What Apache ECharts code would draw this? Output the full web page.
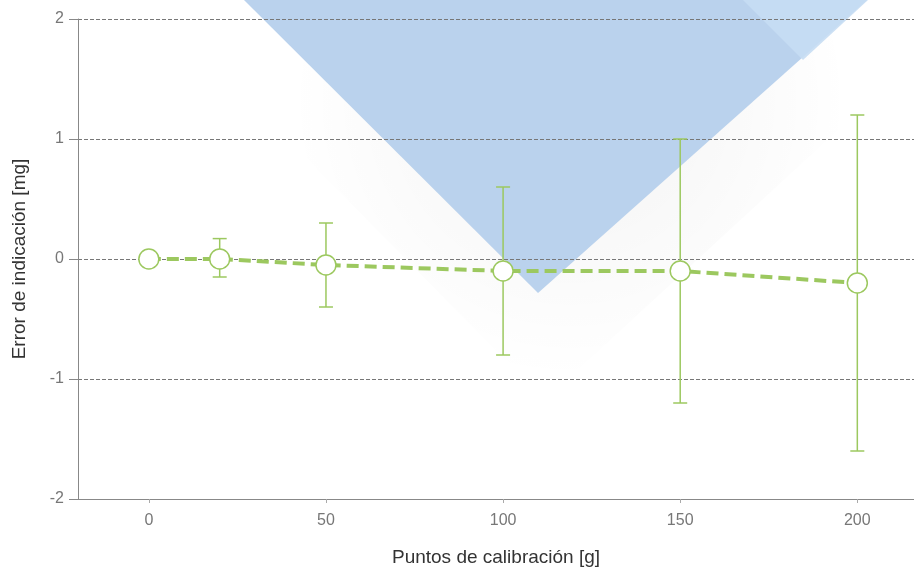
<!DOCTYPE html>
<html><head><meta charset="utf-8">
<script src="https://cdn.jsdelivr.net/npm/echarts@6/dist/echarts.min.js"></script>
<style>html,body{margin:0;padding:0;background:#fff}#c{width:914px;height:567px}</style>
</head><body><div id="c"></div>
<script>
const xPoints = [0, 20, 50, 100, 150, 200];
const errorValues = [0, 0.0, -0.05, -0.1, -0.1, -0.2];
const errLow = [null, -0.15, -0.4, -0.8, -1.2, -1.6];
const errHigh = [null, 0.17, 0.3, 0.6, 1.0, 1.2];
const xTicks = [0, 50, 100, 150, 200];
const yTicks = [-2, -1, 0, 1, 2];
const GREEN = '#9cc85f';

const chart = echarts.init(document.getElementById('c'), null, {renderer: 'canvas'});
const lineData = xPoints.map((x, i) => [x, errorValues[i]]);
const barData = [];
xPoints.forEach((x, i) => { if (errLow[i] !== null) barData.push([x, errLow[i], errHigh[i]]); });

chart.setOption({
  animation: false,
  backgroundColor: '#fff',
  graphic: [
    { type: 'polygon', z: -20, silent: true,
      shape: { points: [[150, 0], [545, 400], [914, 60], [914, 0]] },
      style: { fill: new echarts.graphic.RadialGradient(0.55, 0.25, 0.7, [
        { offset: 0, color: 'rgba(0,0,0,0.05)' },
        { offset: 1, color: 'rgba(0,0,0,0)' }]) } },
    { type: 'polygon', z: -10, silent: true,
      shape: { points: [[244, 0], [538, 293], [867, 0]] },
      style: { fill: '#bad2ed' } },
    { type: 'polygon', z: -9, silent: true,
      shape: { points: [[743, 0], [803, 60], [868, 0]] },
      style: { fill: '#c7ddf3', opacity: 0.9 } }
  ],
  grid: { left: 78, right: 0, top: 19, bottom: 68, containLabel: false, outerBoundsMode: 'none' },
  xAxis: {
    type: 'value', min: -20, max: 216,
    name: 'Puntos de calibración [g]', nameLocation: 'middle', nameGap: 49,
    nameTextStyle: { color: '#333', fontSize: 19, fontFamily: 'Liberation Sans, Arial' },
    axisLine: { show: true, onZero: false, lineStyle: { color: '#888', width: 1 } },
    axisTick: { show: true, length: 4, customValues: xTicks, lineStyle: { color: '#aaa' } },
    axisLabel: { customValues: xTicks, color: '#777', fontSize: 16, margin: 14, fontFamily: 'Liberation Sans, Arial' },
    splitLine: { show: false }
  },
  yAxis: {
    type: 'value', min: -2, max: 2, interval: 1,
    name: 'Error de indicación [mg]', nameLocation: 'middle', nameGap: 49, nameRotate: 90,
    nameTextStyle: { color: '#333', fontSize: 19, fontFamily: 'Liberation Sans, Arial' },
    axisLine: { show: true, onZero: false, lineStyle: { color: '#888', width: 1 } },
    axisTick: { show: true, length: 9, lineStyle: { color: '#888' } },
    axisLabel: { color: '#777', fontSize: 16, margin: 14, fontFamily: 'Liberation Sans, Arial',
      formatter: v => yTicks.includes(v) ? String(v) : '' },
    splitLine: { show: true, lineStyle: { color: '#777', type: [4, 2], width: 1 } }
  },
  series: [
    {
      type: 'custom', z: 3, silent: true,
      data: barData,
      renderItem: (params, api) => {
        const x = api.value(0);
        const lo = api.coord([x, api.value(1)]);
        const hi = api.coord([x, api.value(2)]);
        const w = 7;
        const st = { stroke: GREEN, lineWidth: 1.5, fill: null };
        return { type: 'group', children: [
          { type: 'line', shape: { x1: lo[0], y1: lo[1], x2: hi[0], y2: hi[1] }, style: st },
          { type: 'line', shape: { x1: lo[0] - w, y1: lo[1], x2: lo[0] + w, y2: lo[1] }, style: st },
          { type: 'line', shape: { x1: hi[0] - w, y1: hi[1], x2: hi[0] + w, y2: hi[1] }, style: st }
        ]};
      }
    },
    {
      type: 'line', z: 5, data: lineData,
      symbol: 'circle', symbolSize: 20, showAllSymbol: true,
      lineStyle: { color: GREEN, width: 4, type: [12, 6] },
      itemStyle: { color: '#fff', borderColor: GREEN, borderWidth: 1.5 }
    }
  ]
});
</script></body></html>
